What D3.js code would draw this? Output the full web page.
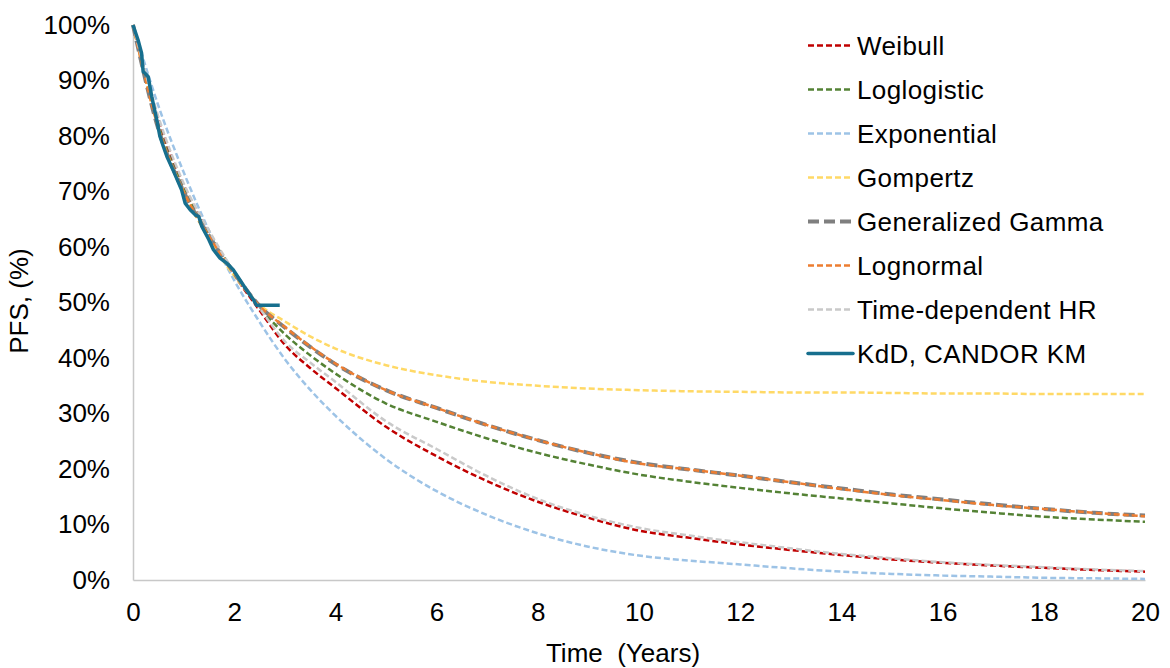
<!DOCTYPE html>
<html>
<head>
<meta charset="utf-8">
<script src="https://cdn.jsdelivr.net/npm/d3@7"></script>
<style>
  html, body { margin: 0; padding: 0; background: #fff; }
  svg { display: block; font-family: "Liberation Sans", Arial, sans-serif; }
</style>
</head>
<body>
<svg id="chart" width="1170" height="668"></svg>
<script>
// Time grid (years) for the fitted parametric curves
const fitTimes = [0, 0.5, 1, 1.5, 2, 2.5, 3, 3.5, 4, 5, 6, 7, 8, 9, 10, 11, 12, 13, 14, 15, 16, 17, 18, 19, 20];

// Progression-free survival (%) for each fitted model
const weibull     = [100, 83, 71, 62.5, 55, 48.6, 42.4, 38.2, 34.6, 27.6, 22.3, 17.8, 14.1, 11.2, 8.9, 7.6, 6.4, 5.4, 4.5, 3.7, 3.1, 2.6, 2.2, 1.8, 1.5];
const loglogistic = [100, 82, 70.5, 62.3, 55.5, 49.2, 44.3, 40.5, 37.2, 31.8, 28.5, 25.5, 22.9, 20.8, 19.0, 17.7, 16.6, 15.6, 14.7, 13.8, 12.9, 12.1, 11.4, 10.9, 10.5];
const exponential = [100, 85.5, 73.5, 63, 54, 46.5, 39.8, 34.3, 29.6, 21.8, 16.0, 11.7, 8.4, 6.0, 4.4, 3.5, 2.8, 2.1, 1.5, 1.1, 0.8, 0.6, 0.4, 0.3, 0.2];
const gompertz    = [100, 81.5, 70, 61.5, 54.8, 49.6, 46.6, 43.9, 41.7, 38.7, 36.9, 35.7, 35.0, 34.5, 34.2, 34.0, 33.9, 33.8, 33.8, 33.7, 33.6, 33.6, 33.5, 33.5, 33.5];
const genGamma    = [100, 81.3, 70, 62, 55.3, 49.4, 45.5, 42.0, 38.9, 34.2, 31.0, 27.9, 25.2, 22.9, 21.1, 19.9, 18.8, 17.6, 16.5, 15.4, 14.5, 13.6, 12.8, 12.1, 11.6];
const lognormal   = [100, 81.5, 70, 62, 55.3, 49.4, 45.6, 42.1, 39.0, 34.2, 31.0, 27.9, 25.2, 22.9, 21.0, 19.9, 18.8, 17.6, 16.4, 15.3, 14.4, 13.5, 12.8, 12.1, 11.5];
const timeDepHR   = [100, 83.5, 71.5, 63, 55.5, 49, 43.0, 39.2, 35.7, 28.6, 23.6, 18.7, 14.6, 11.6, 9.4, 8.0, 6.8, 5.7, 4.7, 3.9, 3.2, 2.7, 2.3, 1.9, 1.6];

// Kaplan-Meier estimate (KdD arm, CANDOR)
const kmTime = [0, 0.10, 0.17, 0.20, 0.27, 0.30, 0.37, 0.47, 0.53, 0.60, 0.67, 0.79, 0.96, 1.03, 1.13, 1.23, 1.30, 1.36, 1.50, 1.59, 1.72, 1.85, 1.98, 2.11, 2.24, 2.38, 2.44, 2.90];
const kmSurv = [100, 97.3, 94.9, 91.6, 91.0, 90.7, 87.1, 82.9, 80.0, 78.1, 76.3, 73.9, 70.3, 67.9, 66.7, 65.8, 65.5, 63.7, 61.3, 59.5, 58.0, 57.1, 55.9, 54.1, 52.3, 50.5, 49.5, 49.5];

// Axis ticks
const xTicks = [0, 2, 4, 6, 8, 10, 12, 14, 16, 18, 20];
const yTicks = [0, 10, 20, 30, 40, 50, 60, 70, 80, 90, 100];

const seriesNames = ["Weibull", "Loglogistic", "Exponential", "Gompertz", "Generalized Gamma", "Lognormal", "Time-dependent HR", "KdD, CANDOR KM"];
const seriesData  = [weibull, loglogistic, exponential, gompertz, genGamma, lognormal, timeDepHR];

// Line styles per series
const styles = [
  { color: "#c00000", width: 2.5, dash: "6,3" },
  { color: "#548235", width: 2.5, dash: "6,3" },
  { color: "#9dc3e6", width: 2.5, dash: "6,3" },
  { color: "#ffd966", width: 2.5, dash: "6,3" },
  { color: "#7f7f7f", width: 4,   dash: "11,5" },
  { color: "#ed7d31", width: 2.5, dash: "6,3" },
  { color: "#c9c9c9", width: 2.5, dash: "6,3" },
  { color: "#176f8e", width: 3.5, dash: null }
];

const svg = d3.select("#chart");
const x = d3.scaleLinear().domain([0, 20]).range([133, 1145]);
const y = d3.scaleLinear().domain([0, 100]).range([580, 25]);

// Axes
const yAxis = svg.append("g")
  .attr("transform", `translate(${x(0)},0)`)
  .call(d3.axisLeft(y).tickValues(yTicks).tickSize(0).tickPadding(23).tickFormat(d => d + "%"));
const xAxis = svg.append("g")
  .attr("transform", `translate(0,${y(0)})`)
  .call(d3.axisBottom(x).tickValues(xTicks).tickSize(0).tickPadding(23).tickFormat(d3.format("d")));
[yAxis, xAxis].forEach(g => {
  g.select(".domain").attr("stroke", "#c8c8c8").attr("stroke-width", 1.5);
  g.selectAll("text").attr("font-size", 26).attr("fill", "#000")
    .attr("font-family", '"Liberation Sans", Arial, sans-serif');
});

// Axis titles
svg.append("text")
  .attr("transform", "translate(28,301) rotate(-90)")
  .attr("text-anchor", "middle")
  .attr("font-size", 26)
  .text("PFS, (%)");
svg.append("text")
  .attr("x", 623).attr("y", 662)
  .attr("text-anchor", "middle")
  .attr("font-size", 26)
  .attr("xml:space", "preserve")
  .text("Time  (Years)");

// Fitted curves
const fitLine = d3.line()
  .x((d, i) => x(fitTimes[i]))
  .y(d => y(d))
  .curve(d3.curveMonotoneX);

seriesData.forEach((vals, k) => {
  const s = styles[k];
  svg.append("path")
    .attr("d", fitLine(vals))
    .attr("fill", "none")
    .attr("stroke", s.color)
    .attr("stroke-width", s.width)
    .attr("stroke-dasharray", s.dash);
});

// Kaplan-Meier curve
const kmLine = d3.line()
  .x((d, i) => x(kmTime[i]))
  .y(d => y(d));
svg.append("path")
  .attr("d", kmLine(kmSurv))
  .attr("fill", "none")
  .attr("stroke", styles[7].color)
  .attr("stroke-width", styles[7].width)
  .attr("stroke-linejoin", "round");

// Legend
const legend = svg.append("g");
seriesNames.forEach((name, k) => {
  const ly = 45.5 + k * 44;
  const s = styles[k];
  legend.append("line")
    .attr("x1", 808).attr("x2", 853)
    .attr("y1", ly).attr("y2", ly)
    .attr("stroke", s.color)
    .attr("stroke-width", s.width)
    .attr("stroke-dasharray", s.dash)
    .attr("stroke-linecap", s.dash ? "butt" : "round");
  legend.append("text")
    .attr("x", 857).attr("y", ly)
    .attr("dy", "0.35em")
    .attr("font-size", 26)
    .attr("letter-spacing", 0.4)
    .attr("fill", "#000")
    .text(name);
});
</script>
</body>
</html>
